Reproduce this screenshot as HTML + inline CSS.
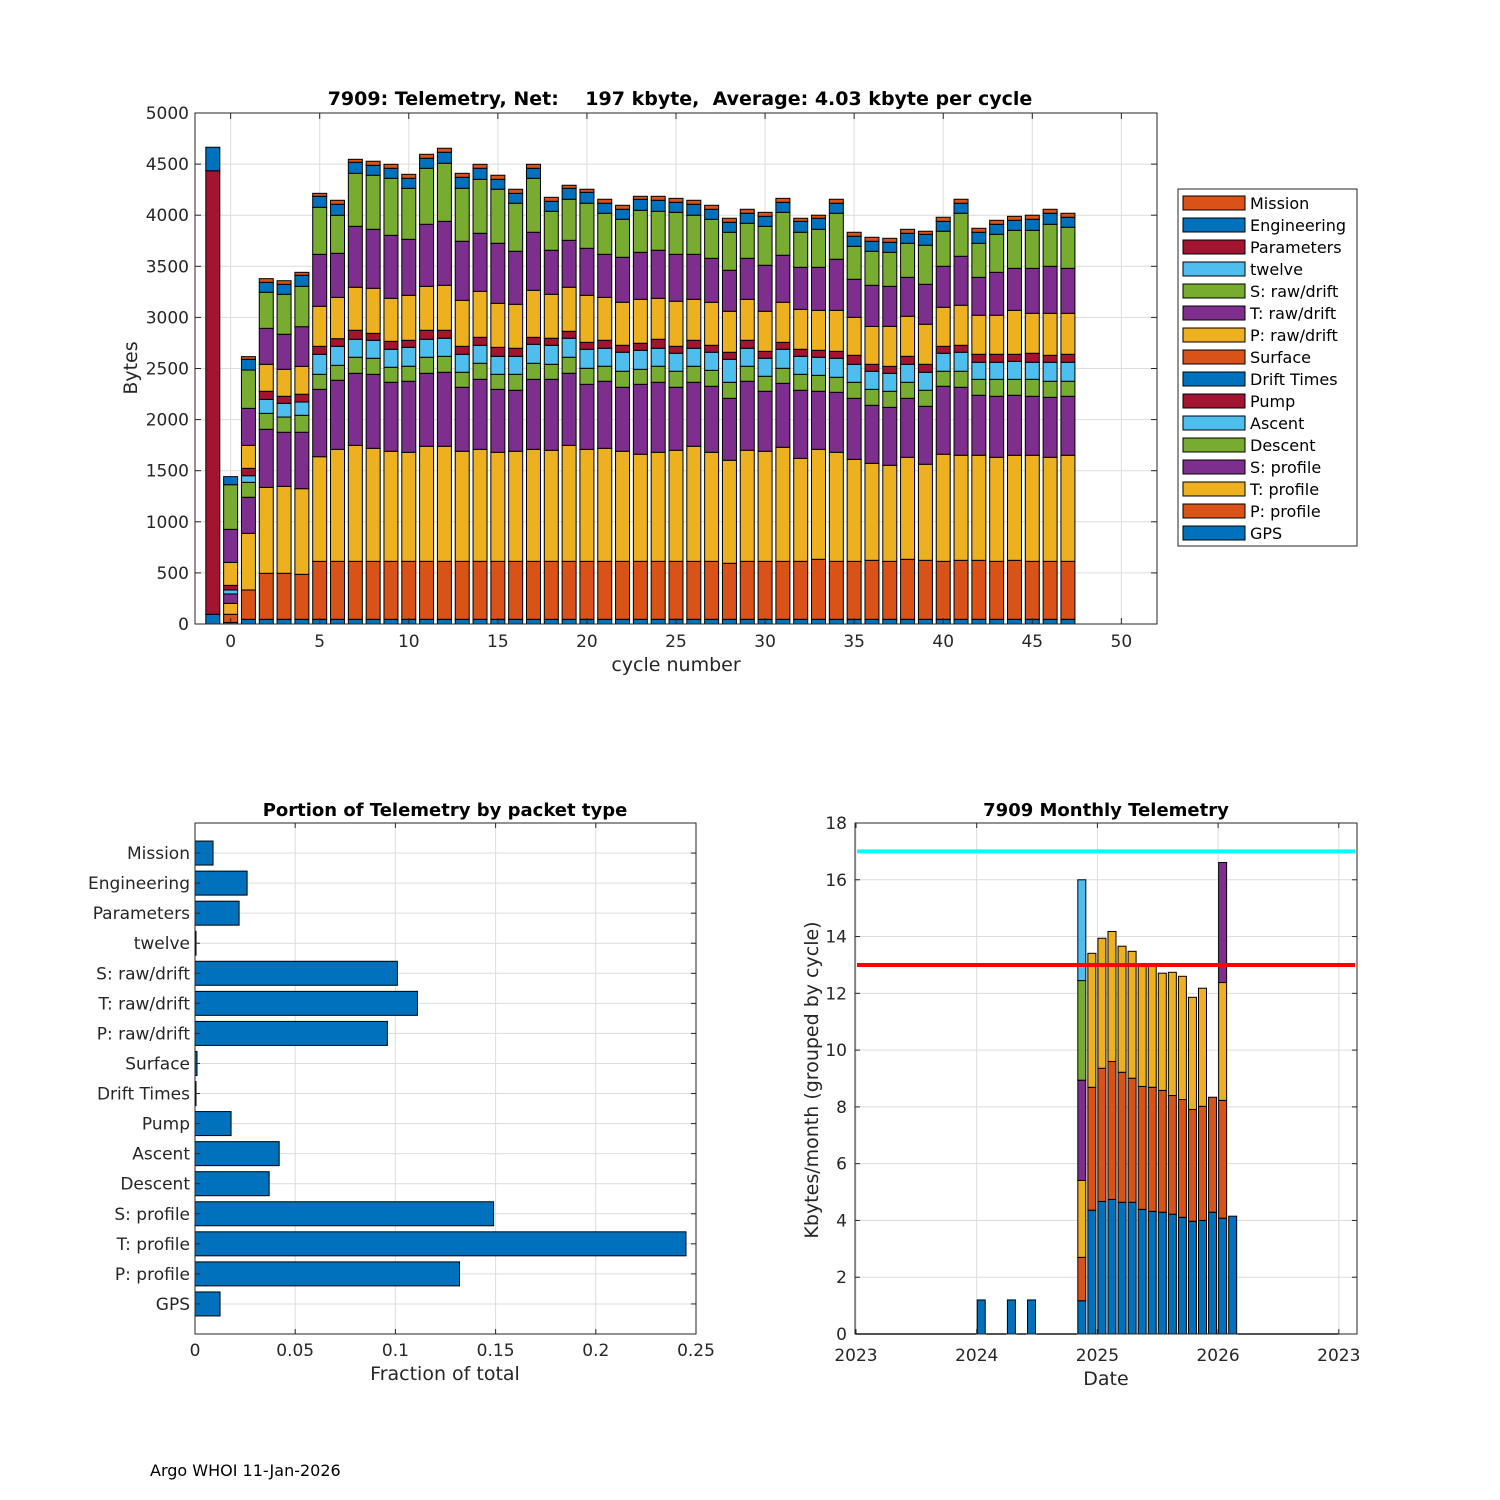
<!DOCTYPE html>
<html><head><meta charset="utf-8">
<style>
html,body{margin:0;padding:0;background:#fff;}
svg{display:block;font-family:"DejaVu Sans","Liberation Sans",sans-serif;}
.pre{white-space:pre;}
</style></head>
<body>
<svg id="fig" width="1500" height="1500" viewBox="0 0 1500 1500" xmlns="http://www.w3.org/2000/svg">
<rect x="0" y="0" width="1500" height="1500" fill="#fff"/>
<text x="150" y="1476" font-size="16">Argo WHOI 11-Jan-2026</text>
</svg>
<script>
const NS="http://www.w3.org/2000/svg";
const svg=document.getElementById('fig');
function mk(tag,attrs,parent){const e=document.createElementNS(NS,tag);for(const k in attrs)e.setAttribute(k,attrs[k]);(parent||svg).appendChild(e);return e;}

// ---------- Top chart data ----------
const cycles=[-1,0,1,2,3,4,5,6,7,8,9,10,11,12,13,14,15,16,17,18,19,20,21,22,23,24,25,26,27,28,29,30,31,32,33,34,35,36,37,38,39,40,41,42,43,44,45,46,47];
const seriesNames=["GPS","P: profile","T: profile","S: profile","Descent","Ascent","Pump","Drift Times","Surface","P: raw/drift","T: raw/drift","S: raw/drift","twelve","Parameters","Engineering","Mission"];
const seriesColors=["#0072BD","#D95319","#EDB120","#7E2F8E","#77AC30","#4DBEEE","#A2142F","#0072BD","#D95319","#EDB120","#7E2F8E","#77AC30","#4DBEEE","#A2142F","#0072BD","#D95319"];
const gps=[95,15,46,46,46,46,46,46,46,46,46,46,46,46,46,46,46,46,46,46,46,46,46,46,46,46,46,46,46,46,46,46,46,46,46,46,46,46,46,46,46,46,46,46,46,46,46,46,46];
const pProfile=[0,80,287,450,450,440,567,567,567,567,567,567,567,567,567,567,567,567,567,567,567,567,567,567,567,567,567,567,567,548,567,567,567,567,587,567,567,577,567,587,577,567,577,577,567,577,567,567,567];
const tProfile=[0,107,554,841,851,838,1024,1096,1135,1106,1077,1067,1126,1126,1077,1096,1067,1077,1096,1087,1135,1096,1106,1077,1048,1067,1087,1126,1067,1008,1087,1077,1116,1008,1076,1067,998,949,940,998,940,1048,1028,1028,1018,1028,1038,1018,1038];
const sProfile=[0,92,353,568,529,552,659,676,705,724,675,695,714,724,626,685,616,597,685,694,705,636,656,626,684,685,616,626,646,606,675,587,626,666,568,587,597,568,567,577,567,665,665,587,597,587,577,587,577];
const descent=[0,0,146,156,149,166,147,146,157,157,147,147,157,156,147,157,147,156,157,147,157,157,147,157,147,157,157,157,156,157,147,147,147,156,156,147,157,156,157,157,157,147,157,156,166,156,166,157,147];
const ascent=[0,39,65,137,134,130,196,186,176,176,176,185,176,177,176,176,176,176,186,186,186,186,176,186,186,176,176,176,177,225,176,176,186,176,177,186,176,177,176,176,176,176,186,167,167,176,167,186,186];
const pump=[0,45,72,79,69,76,78,75,88,68,78,69,88,78,78,78,88,79,68,69,68,68,78,68,69,88,68,78,68,69,78,68,68,69,68,68,88,68,68,78,78,68,68,78,78,69,88,68,78];
const driftTimes=cycles.map(()=>0);
const surface=cycles.map(()=>0);
const pRaw=[0,225,225,264,264,273,392,404,421,441,421,440,430,440,450,450,431,430,460,430,431,460,420,421,430,401,441,401,421,401,401,392,392,391,391,401,372,370,392,392,392,382,392,382,382,430,391,411,401];
const tRaw=[0,323,362,352,343,388,508,431,596,577,616,548,607,626,578,568,587,519,568,431,459,460,421,440,460,470,459,440,430,401,401,450,460,411,421,500,372,403,391,381,391,401,479,371,420,411,440,460,440];
const sRaw=[0,437,375,353,391,395,460,372,519,529,558,499,548,568,518,528,529,470,528,381,402,441,402,372,411,381,411,383,382,372,343,381,420,343,372,450,323,333,333,333,382,343,421,333,372,372,372,411,402];
const twelve=cycles.map(()=>0);
const parameters=[4340,0,0,0,0,0,0,0,0,0,0,0,0,0,0,0,0,0,0,0,0,0,0,0,0,0,0,0,0,0,0,0,0,0,0,0,0,0,0,0,0,0,0,0,0,0,0,0,0];
const engineering=[230,79,105,97,98,108,108,108,108,97,98,98,98,108,108,108,97,97,98,98,107,107,98,98,108,108,98,107,98,98,98,98,98,107,108,98,98,98,98,98,107,97,98,108,98,98,108,108,98];
const mission=[0,0,26,36,35,29,29,39,29,40,39,39,39,39,39,39,40,40,39,39,30,30,39,39,29,39,39,39,39,39,39,39,39,30,30,39,39,39,39,39,30,40,39,39,39,39,40,39,39];
const topSeries=[gps,pProfile,tProfile,sProfile,descent,ascent,pump,driftTimes,surface,pRaw,tRaw,sRaw,twelve,parameters,engineering,mission];
const topXTicks=[0,5,10,15,20,25,30,35,40,45,50];
const topYTicks=[0,500,1000,1500,2000,2500,3000,3500,4000,4500,5000];
const topTitle="7909: Telemetry, Net:    197 kbyte,  Average: 4.03 kbyte per cycle";

// ---------- Bottom-left data ----------
const packetTypes=["GPS","P: profile","T: profile","S: profile","Descent","Ascent","Pump","Drift Times","Surface","P: raw/drift","T: raw/drift","S: raw/drift","twelve","Parameters","Engineering","Mission"];
const packetFractions=[0.0125,0.132,0.245,0.149,0.037,0.042,0.018,0.0005,0.001,0.096,0.111,0.101,0.0005,0.022,0.026,0.009];
const fracTicks=[0,0.05,0.1,0.15,0.2,0.25];
const fracTickLabels=["0","0.05","0.1","0.15","0.2","0.25"];

// ---------- Bottom-right data ----------
const months=[];for(let i=0;i<48;i++)months.push(i);
const mGPS=[], mP=[], mT=[], mS=[], mDesc=[], mAsc=[];
for(let i=0;i<48;i++){mGPS.push(0);mP.push(0);mT.push(0);mS.push(0);mDesc.push(0);mAsc.push(0);}
const monthIdx=[12,15,17,22,23,24,25,26,27,28,29,30,31,32,33,34,35,36,37];
const monthGPS=[1.2,1.2,1.2,1.17,4.36,4.67,4.74,4.64,4.64,4.39,4.32,4.29,4.22,4.11,3.97,4.00,4.29,4.08,4.15];
const monthP=[0,0,0,1.53,4.33,4.69,4.86,4.58,4.37,4.33,4.37,4.29,4.18,4.15,3.94,4.02,4.05,4.15,0];
const monthT=[0,0,0,2.71,4.72,4.58,4.58,4.44,4.47,4.23,4.26,4.13,4.34,4.34,3.95,4.16,0,4.15,0];
const monthS=[0,0,0,3.53,0,0,0,0,0,0,0,0,0,0,0,0,0,4.23,0];
const monthDesc=[0,0,0,3.51,0,0,0,0,0,0,0,0,0,0,0,0,0,0,0];
const monthAsc=[0,0,0,3.55,0,0,0,0,0,0,0,0,0,0,0,0,0,0,0];
monthIdx.forEach((m,i)=>{mGPS[m]=monthGPS[i];mP[m]=monthP[i];mT[m]=monthT[i];mS[m]=monthS[i];mDesc[m]=monthDesc[i];mAsc[m]=monthAsc[i];});
const monthSeries=[mGPS,mP,mT,mS,mDesc,mAsc];
const monthColors=["#0072BD","#D95319","#EDB120","#7E2F8E","#77AC30","#4DBEEE"];
const yearTicks=[2023,2024,2025,2026,2027];
const yearTickLabels=["2023","2024","2025","2026","2023"];
const kbTicks=[0,2,4,6,8,10,12,14,16,18];
const limitHigh=17, limitLow=13;

function gridAndBox(L,T,R,B,g,name){
  mk('rect',{x:L,y:T,width:R-L,height:B-T,fill:'none',stroke:'#262626','stroke-width':1},g);
}

// ===== TOP CHART =====
(function(){
  const L=195,T=113,R=1157,B=624,x0=-2,x1=52,y0=0,y1=5000;
  const sx=v=>L+(v-x0)/(x1-x0)*(R-L), sy=v=>B-(v-y0)/(y1-y0)*(B-T);
  const g=mk('g',{});
  
  
  topXTicks.forEach(t=>{mk('line',{x1:sx(t),y1:T,x2:sx(t),y2:B,stroke:'#dcdcdc','stroke-width':1},g);});
  topYTicks.forEach(t=>{mk('line',{x1:L,y1:sy(t),x2:R,y2:sy(t),stroke:'#dcdcdc','stroke-width':1},g);});
  const bw=14;
  cycles.forEach((c,i)=>{
    let acc=0;
    topSeries.forEach((s,k)=>{
      const v=s[i]; if(v<=0) return;
      const r=mk('rect',{x:sx(c)-bw/2,y:sy(acc+v),width:bw,height:sy(acc)-sy(acc+v),fill:seriesColors[k],stroke:'#000','stroke-width':1},g);
      
      
      acc+=v;
    });
  });
  gridAndBox(L,T,R,B,g,'top-axes-box');
  topXTicks.forEach(t=>{
    mk('line',{x1:sx(t),y1:B,x2:sx(t),y2:B-6,stroke:'#262626'},g);
    mk('line',{x1:sx(t),y1:T,x2:sx(t),y2:T+6,stroke:'#262626'},g);
    const tx=mk('text',{x:sx(t),y:B+23,'font-size':17,'text-anchor':'middle',fill:'#262626'},g);tx.textContent=t;
    
  });
  topYTicks.forEach(t=>{
    mk('line',{x1:L,y1:sy(t),x2:L+6,y2:sy(t),stroke:'#262626'},g);
    mk('line',{x1:R,y1:sy(t),x2:R-6,y2:sy(t),stroke:'#262626'},g);
    const tx=mk('text',{x:L-6,y:sy(t)+6,'font-size':17,'text-anchor':'end',fill:'#262626'},g);tx.textContent=t;
    
  });
  let t=mk('text',{x:680,y:105,'font-size':19,'font-weight':'bold','text-anchor':'middle',fill:'#000','class':'pre'},g);t.textContent=topTitle;
  
  t=mk('text',{x:676,y:671,'font-size':19,'text-anchor':'middle',fill:'#262626'},g);t.textContent='cycle number';
  
  t=mk('text',{x:137,y:368,'font-size':19,'text-anchor':'middle',fill:'#262626',transform:'rotate(-90 137 368)'},g);t.textContent='Bytes';
  
  const lg=mk('g',{});
  
  
  mk('rect',{x:1178,y:189,width:179,height:357,fill:'#fff',stroke:'#262626','stroke-width':1},lg);
  for(let k=15;k>=0;k--){
    const row=15-k, cy=203+row*22;
    const sw=mk('rect',{x:1183,y:cy-7,width:62,height:14,fill:seriesColors[k],stroke:'#000','stroke-width':1},lg);
    
    const tx=mk('text',{x:1250,y:cy+6,'font-size':16,fill:'#000'},lg);tx.textContent=seriesNames[k];
    
  }
})();

// ===== BOTTOM LEFT =====
(function(){
  const L=195,T=823,R=696,B=1334,x0=0,x1=0.25;
  const sx=v=>L+(v-x0)/(x1-x0)*(R-L);
  const n=packetTypes.length, step=(B-T)/(n+1);
  const sy=i=>B-(i+1)*step;
  const g=mk('g',{});
  
  
  fracTicks.forEach(t=>mk('line',{x1:sx(t),y1:T,x2:sx(t),y2:B,stroke:'#dcdcdc'},g));
  packetTypes.forEach((p,i)=>mk('line',{x1:L,y1:sy(i),x2:R,y2:sy(i),stroke:'#dcdcdc'},g));
  const bh=24;
  packetTypes.forEach((p,i)=>{
    const r=mk('rect',{x:sx(0),y:sy(i)-bh/2,width:sx(packetFractions[i])-sx(0),height:bh,fill:'#0072BD',stroke:'#000','stroke-width':1},g);
    
    
    const tx=mk('text',{x:L-5,y:sy(i)+6,'font-size':17,'text-anchor':'end',fill:'#262626'},g);tx.textContent=p;
    
    mk('line',{x1:L,y1:sy(i),x2:L+5,y2:sy(i),stroke:'#262626'},g);
    mk('line',{x1:R,y1:sy(i),x2:R-5,y2:sy(i),stroke:'#262626'},g);
  });
  gridAndBox(L,T,R,B,g,'portion-axes-box');
  fracTicks.forEach((t,i)=>{
    mk('line',{x1:sx(t),y1:B,x2:sx(t),y2:B-5,stroke:'#262626'},g);
    mk('line',{x1:sx(t),y1:T,x2:sx(t),y2:T+5,stroke:'#262626'},g);
    const tx=mk('text',{x:sx(t),y:B+22,'font-size':17,'text-anchor':'middle',fill:'#262626'},g);tx.textContent=fracTickLabels[i];
    
  });
  let t=mk('text',{x:445,y:816,'font-size':18,'font-weight':'bold','text-anchor':'middle',fill:'#000'},g);t.textContent='Portion of Telemetry by packet type';
  
  t=mk('text',{x:445,y:1380,'font-size':19,'text-anchor':'middle',fill:'#262626'},g);t.textContent='Fraction of total';
  
})();

// ===== BOTTOM RIGHT =====
(function(){
  const L=855,T=823,R=1357,B=1334,y0=0,y1=18;
  const pxPerYear=120.7, xYear=v=>856+(v-2023)*pxPerYear;
  const xMonth=m=>xYear(2023+(m+0.45)/12);
  const sy=v=>B-(v-y0)/(y1-y0)*(B-T);
  const g=mk('g',{});
  
  
  yearTicks.forEach(t=>mk('line',{x1:xYear(t),y1:T,x2:xYear(t),y2:B,stroke:'#dcdcdc'},g));
  kbTicks.forEach(t=>mk('line',{x1:L,y1:sy(t),x2:R,y2:sy(t),stroke:'#dcdcdc'},g));
  const bw=8;
  months.forEach((m,i)=>{
    let acc=0, any=false;
    monthSeries.forEach((s,k)=>{
      const v=s[i]; if(v<=0) return; any=true;
      const r=mk('rect',{x:xMonth(m)-bw/2,y:sy(acc+v),width:bw,height:sy(acc)-sy(acc+v),fill:monthColors[k],stroke:'#000','stroke-width':1},g);
      
      
      acc+=v;
    });
    if(!any){
      const z=mk('line',{x1:xMonth(m)-bw/2-1,y1:B,x2:xMonth(m)+bw/2+1,y2:B,stroke:'#000','stroke-width':1.5},g);
      
      
    }
  });
  let l=mk('line',{x1:L+2,y1:sy(limitHigh),x2:R-2,y2:sy(limitHigh),stroke:'#00FFFF','stroke-width':4},g);
  
  l=mk('line',{x1:L+2,y1:sy(limitLow),x2:R-2,y2:sy(limitLow),stroke:'#FF0000','stroke-width':4},g);
  
  gridAndBox(L,T,R,B,g,'monthly-axes-box');
  yearTicks.forEach((t,i)=>{
    mk('line',{x1:xYear(t),y1:B,x2:xYear(t),y2:B-5,stroke:'#262626'},g);
    mk('line',{x1:xYear(t),y1:T,x2:xYear(t),y2:T+5,stroke:'#262626'},g);
    const tx=mk('text',{x:xYear(t),y:B+27,'font-size':17,'text-anchor':'middle',fill:'#262626'},g);tx.textContent=yearTickLabels[i];
    
  });
  kbTicks.forEach(t=>{
    mk('line',{x1:L,y1:sy(t),x2:L+5,y2:sy(t),stroke:'#262626'},g);
    mk('line',{x1:R,y1:sy(t),x2:R-5,y2:sy(t),stroke:'#262626'},g);
    const tx=mk('text',{x:L-8,y:sy(t)+6,'font-size':17,'text-anchor':'end',fill:'#262626'},g);tx.textContent=t;
    
  });
  let t=mk('text',{x:1106,y:816,'font-size':18,'font-weight':'bold','text-anchor':'middle',fill:'#000'},g);t.textContent='7909 Monthly Telemetry';
  
  t=mk('text',{x:1106,y:1385,'font-size':19,'text-anchor':'middle',fill:'#262626'},g);t.textContent='Date';
  
  t=mk('text',{x:818,y:1080,'font-size':19,'text-anchor':'middle',fill:'#262626',transform:'rotate(-90 818 1080)'},g);t.textContent='Kbytes/month (grouped by cycle)';
  
})();
</script>
</body></html>
